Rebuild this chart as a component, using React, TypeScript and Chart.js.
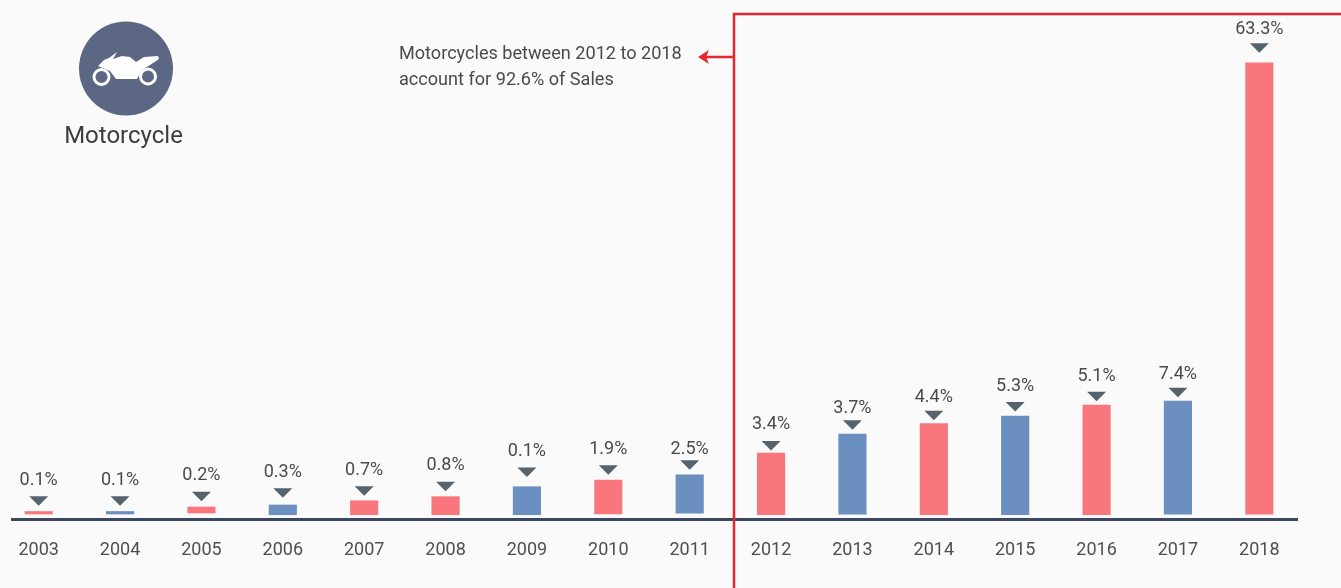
import React, { useEffect, useRef } from "react";
import { Chart, registerables } from "chart.js";

Chart.register(...registerables);

const years = ["2003","2004","2005","2006","2007","2008","2009","2010","2011","2012","2013","2014","2015","2016","2017","2018"];
const barTops = [0.49,0.49,1.12,1.4,2.0,2.57,3.96,4.9,5.64,8.68,11.34,12.81,13.86,15.4,15.96,63.3];
const barBases = [0.14,0.14,0.28,0.04,0.04,0.04,0.04,0.14,0.24,0.04,0.1,0.04,0.04,0.04,0.1,0.1];
const markerLevels = [1.96,1.96,2.59,3.08,3.36,3.99,5.98,6.3,7.0,9.7,12.6,13.93,15.16,16.59,17.15,65.38];
const labelLevels = [4.8,4.8,5.5,5.96,6.2,6.9,8.9,9.14,9.14,12.64,14.98,16.46,18.06,19.46,19.64,67.94];
const shareLabels = ["0.1%","0.1%","0.2%","0.3%","0.7%","0.8%","0.1%","1.9%","2.5%","3.4%","3.7%","4.4%","5.3%","5.1%","7.4%","63.3%"];
const barColors = ["#f9777c","#6b90bf","#f9777c","#6b90bf","#f9777c","#f9777c","#6b90bf","#f9777c","#6b90bf","#f9777c","#6b90bf","#f9777c","#6b90bf","#f9777c","#6b90bf","#f9777c"];
const noteLines = ["Motorcycles between 2012 to 2018", "account for 92.6% of Sales"];
const badgeTitle = "Motorcycle";

const SHIFT = 2;
const FONT = "Roboto, sans-serif";
const RED = "#e8262d";

const overlay = {
  id: "overlay",
  afterDraw(chart: any) {
    const { ctx } = chart;
    const meta = chart.getDatasetMeta(0);
    const yScale = chart.scales.y;
    ctx.save();
    // axis line
    ctx.strokeStyle = "#3b4763";
    ctx.lineWidth = 3;
    ctx.beginPath();
    ctx.moveTo(11 + SHIFT, 519.5);
    ctx.lineTo(1298 + SHIFT, 519.5);
    ctx.stroke();

    // value markers and labels
    ctx.textAlign = "center";
    ctx.textBaseline = "middle";
    meta.data.forEach((bar: any, i: number) => {
      const x = bar.x;
      const my = yScale.getPixelForValue(markerLevels[i]);
      ctx.fillStyle = "#56626c";
      ctx.beginPath();
      ctx.moveTo(x - 9.5, my - 4.7);
      ctx.lineTo(x + 9.5, my - 4.7);
      ctx.lineTo(x, my + 4.7);
      ctx.closePath();
      ctx.fill();
      ctx.fillStyle = "#4a4a4a";
      ctx.font = `18px ${FONT}`;
      ctx.fillText(shareLabels[i], x, yScale.getPixelForValue(labelLevels[i]));
    });

    // bracket and arrow
    ctx.strokeStyle = RED;
    ctx.lineWidth = 2.5;
    ctx.beginPath();
    ctx.moveTo(chart.width, 14);
    ctx.lineTo(734 + SHIFT, 14);
    ctx.lineTo(734 + SHIFT, 588);
    ctx.moveTo(734 + SHIFT, 57);
    ctx.lineTo(704 + SHIFT, 57);
    ctx.stroke();
    ctx.fillStyle = RED;
    ctx.beginPath();
    ctx.moveTo(698 + SHIFT, 57);
    ctx.lineTo(709 + SHIFT, 50);
    ctx.lineTo(706 + SHIFT, 57);
    ctx.lineTo(709 + SHIFT, 64);
    ctx.closePath();
    ctx.fill();

    // note
    ctx.textAlign = "left";
    ctx.fillStyle = "#4a4a4a";
    ctx.font = `18.1px ${FONT}`;
    ctx.fillText(noteLines[0], 399 + SHIFT, 54.5);
    ctx.fillText(noteLines[1], 399 + SHIFT, 80);

    // badge
    ctx.translate(SHIFT, 0);
    ctx.fillStyle = "#5c6784";
    ctx.beginPath();
    ctx.arc(126, 68.5, 47, 0, Math.PI * 2);
    ctx.fill();
    ctx.fillStyle = "#ffffff";
    ctx.beginPath();
    ctx.moveTo(98, 66);
    ctx.lineTo(104, 60);
    ctx.lineTo(109, 58);
    ctx.lineTo(117, 52);
    ctx.lineTo(113, 59);
    ctx.lineTo(122, 56);
    ctx.lineTo(130, 57);
    ctx.lineTo(136, 62);
    ctx.lineTo(144, 57);
    ctx.lineTo(158, 56);
    ctx.lineTo(159, 59);
    ctx.lineTo(150, 65);
    ctx.lineTo(142, 70);
    ctx.lineTo(137, 79);
    ctx.lineTo(116, 79);
    ctx.lineTo(110, 71);
    ctx.closePath();
    ctx.fill();
    ctx.strokeStyle = "#ffffff";
    ctx.lineWidth = 3;
    ctx.beginPath();
    ctx.arc(101.5, 77, 7.5, 0, Math.PI * 2);
    ctx.moveTo(155.5, 76.5);
    ctx.arc(148, 76.5, 7.5, 0, Math.PI * 2);
    ctx.stroke();

    ctx.fillStyle = "#3d3d3d";
    ctx.font = `24px ${FONT}`;
    ctx.textAlign = "center";
    ctx.fillText(badgeTitle, 123.5, 136.5);
    ctx.restore();
  },
};

export default function App() {
  const ref = useRef<HTMLCanvasElement>(null);
  useEffect(() => {
    document.body.style.margin = "0";
    document.body.style.background = "#fafafa";
    document.body.style.overflow = "hidden";
    const chart = new Chart(ref.current!, {
      type: "bar",
      data: {
        labels: years,
        datasets: [{
          data: barTops.map((top, i) => [barBases[i], top]),
          backgroundColor: barColors,
          barThickness: 27.5,
          borderWidth: 0,
        }],
      },
      options: {
        animation: false,
        responsive: false,
        layout: { padding: { left: 0, top: 0, bottom: 0, right: 41 } },
        plugins: { legend: { display: false }, tooltip: { enabled: false }, title: { display: false } },
        scales: {
          x: {
            type: "category",
            grid: { display: false, drawTicks: false },
            border: { display: false },
            afterFit: (s: any) => { s.height = 68; },
            ticks: {
              autoSkip: false,
              maxRotation: 0,
              padding: 20,
              color: "#4f4f4f",
              font: { family: "Roboto", size: 18 },
            },
          },
          y: { display: false, min: -0.7, max: 72.1 },
        },
      },
      plugins: [overlay],
    } as any);
    return () => chart.destroy();
  }, []);
  return (
    <canvas
      ref={ref}
      width={1343}
      height={588}
      style={{ position: "absolute", left: -SHIFT, top: 0, display: "block", filter: "blur(0.4px)" }}
    />
  );
}
